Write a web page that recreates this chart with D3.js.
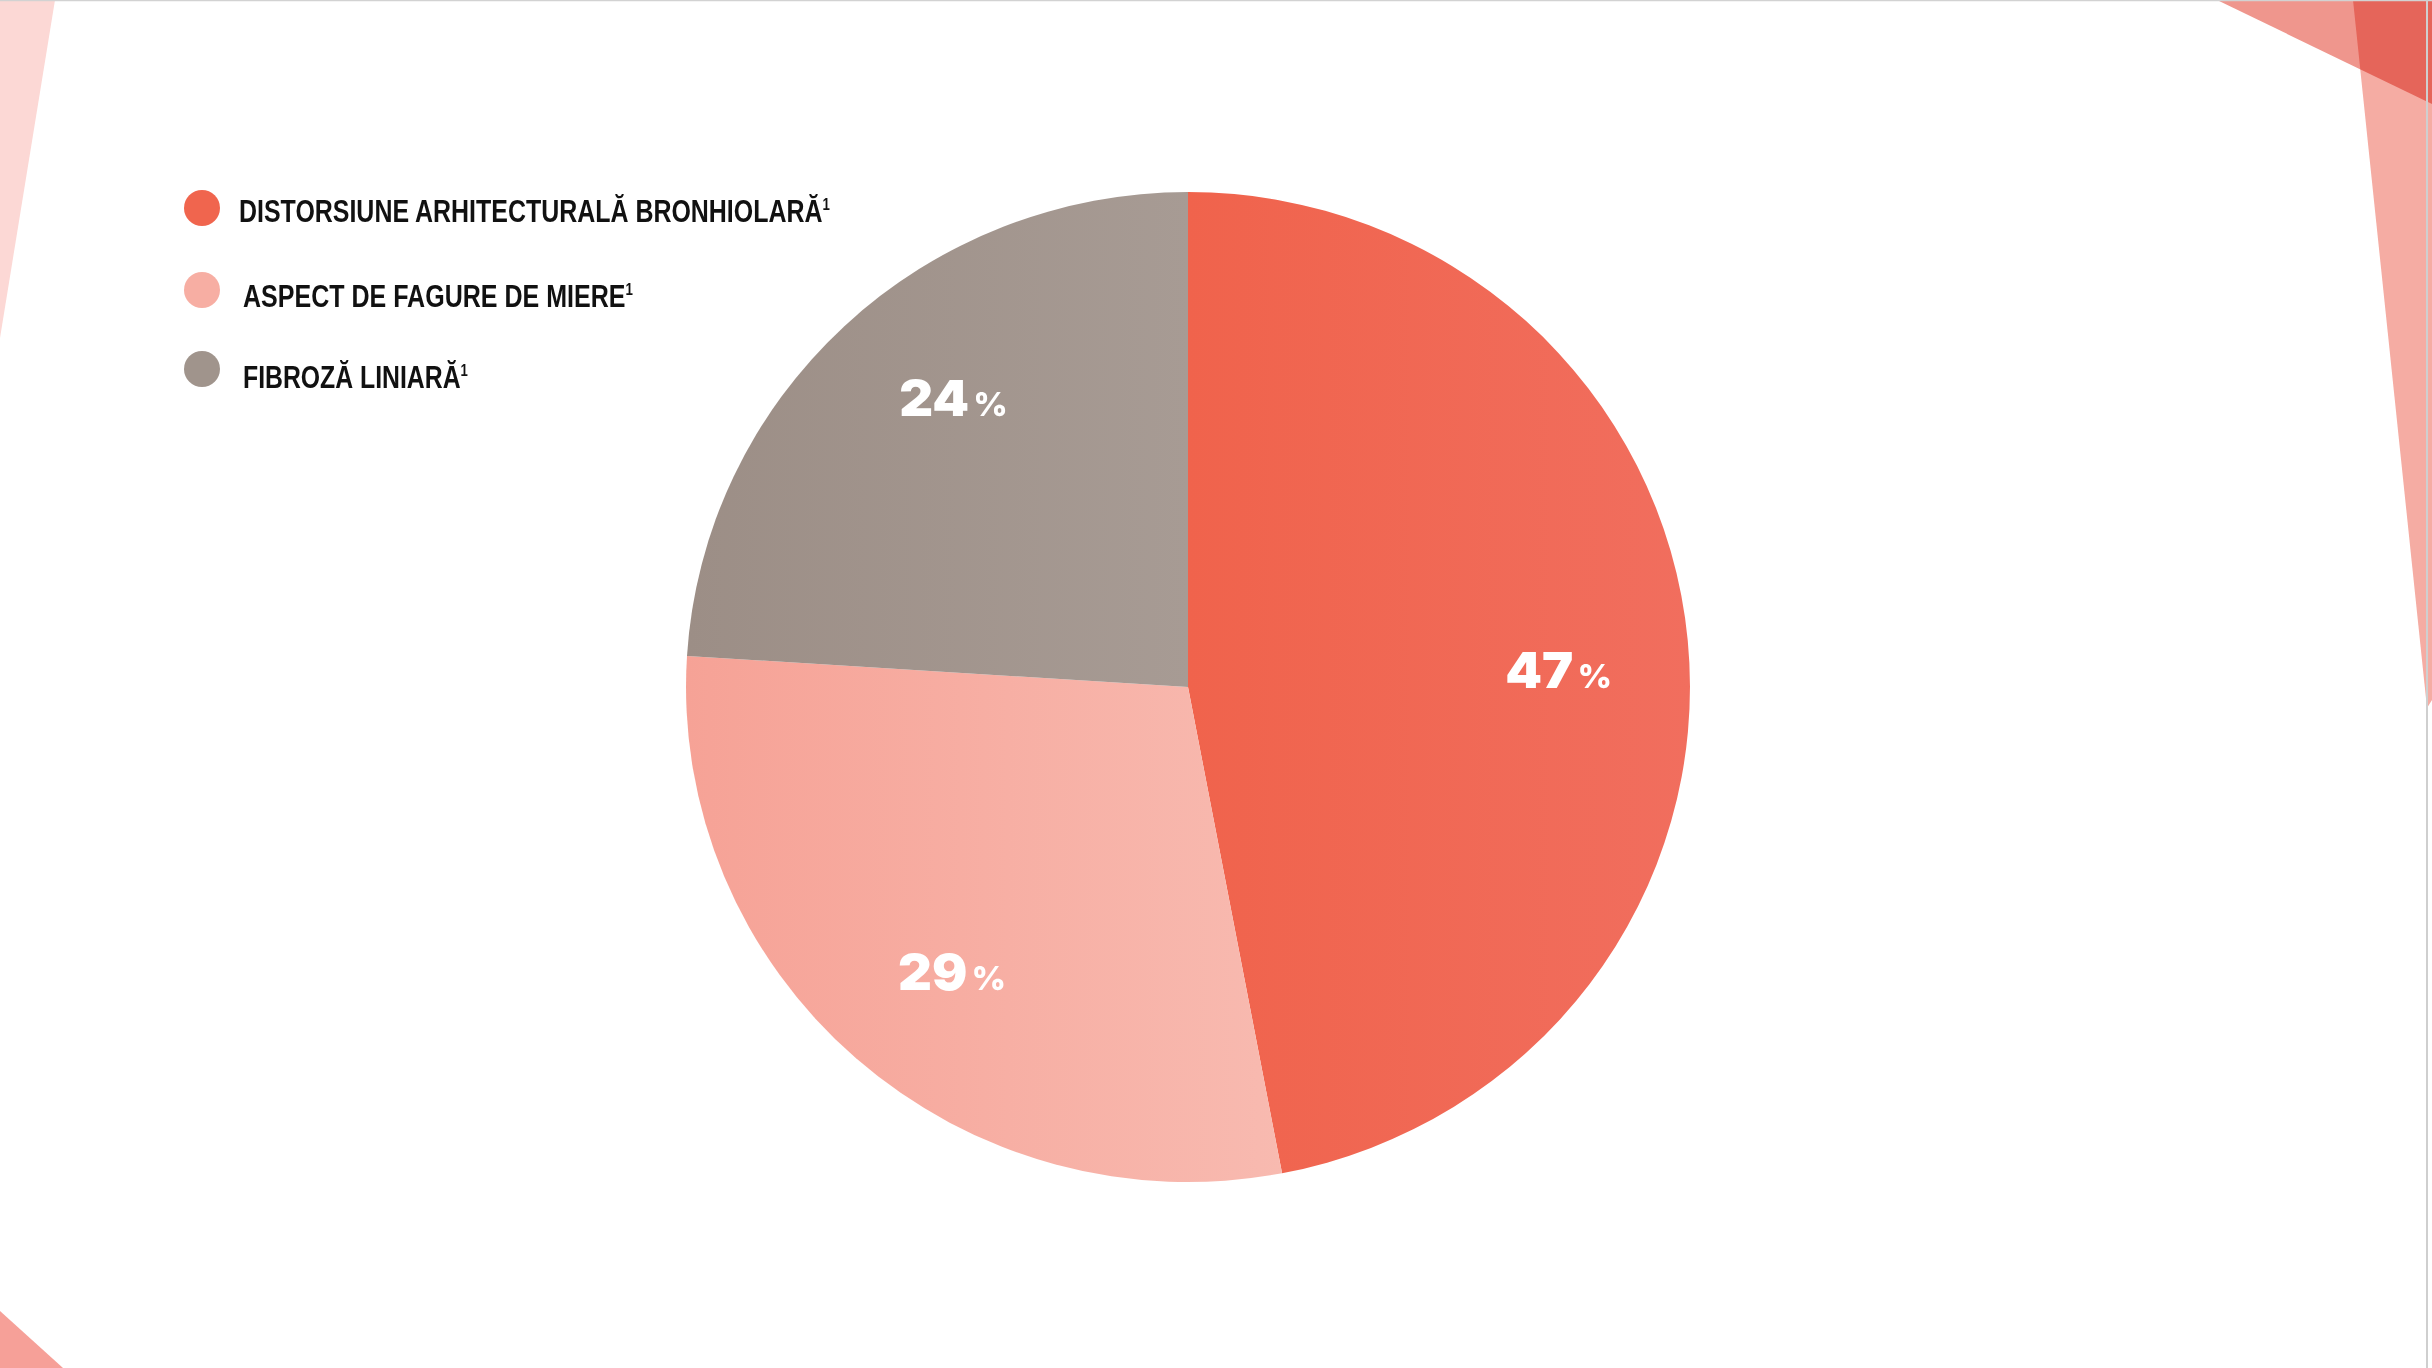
<!DOCTYPE html>
<html>
<head>
<meta charset="utf-8">
<script src="https://cdn.jsdelivr.net/npm/d3@7"></script>
<style>
  html, body { margin: 0; padding: 0; background: #ffffff; }
  svg { display: block; }
</style>
</head>
<body>
<svg id="chart" width="2432" height="1368"></svg>
<script>
// Slice categories, shares (%) and colours
const categories = ["DISTORSIUNE ARHITECTURALĂ BRONHIOLARĂ", "ASPECT DE FAGURE DE MIERE", "FIBROZĂ LINIARĂ"];
const values = [47, 29, 24];
const footnotes = ["1", "1", "1"];
const sliceColors = ["#F0654E", "#F7AEA3", "#A0948C"];
const gradientStops = [["#F0634C", "#F16E5E"], ["#F6A296", "#F8BAB0"], ["#9C8E86", "#A79B94"]];

// label placement tweak along each slice (degrees added to the mid-angle)
const labelAngleShift = [3.0, -1.9, 4.0];

const W = 2432, H = 1368;
const svg = d3.select("#chart");
const defs = svg.append("defs");

// ---- decorative background shapes ----
const deco = svg.append("g");
deco.append("polygon").attr("points", "0,0 55,0 0,338").attr("fill", "#FCD8D5");
deco.append("polygon").attr("points", "0,1311 63,1368 0,1368").attr("fill", "#F6A098");
deco.append("polygon").attr("points", "2217,0 2432,0 2432,104").attr("fill", "#EF968D");
deco.append("polygon").attr("points", "2353,0 2432,0 2432,700 2427,708")
  .attr("fill", "#F5ACA3").style("mix-blend-mode", "multiply");
// slide frame lines
deco.append("line").attr("x1", 0).attr("x2", W).attr("y1", 0.5).attr("y2", 0.5)
  .attr("stroke", "#D2D2D2").attr("stroke-width", 1.5);
deco.append("line").attr("x1", 2427).attr("x2", 2427).attr("y1", 0).attr("y2", H)
  .attr("stroke", "#CFCFCF").attr("stroke-width", 2);

// ---- pie ----
const cx = 1188, cy = 687, R = 498;
const pie = d3.pie().sort(null).value(d => d.value).startAngle(0).endAngle(2 * Math.PI);
const data = categories.map((c, i) => ({ name: c, value: values[i], i }));
const arcs = pie(data);
const arc = d3.arc().innerRadius(0).outerRadius(R);
const labelR = 371;

gradientStops.forEach((s, i) => {
  const g = defs.append("linearGradient").attr("id", "grad" + i)
    .attr("x1", "0%").attr("x2", "100%").attr("y1", "0%").attr("y2", "0%");
  g.append("stop").attr("offset", "0%").attr("stop-color", s[0]);
  g.append("stop").attr("offset", "100%").attr("stop-color", s[1]);
});

const pieG = svg.append("g").attr("transform", `translate(${cx},${cy})`);
pieG.append("g").attr("transform", "scale(1.008,0.994)")
  .selectAll("path.slice").data(arcs).join("path")
  .attr("class", "slice")
  .attr("d", arc)
  .attr("fill", d => `url(#grad${d.data.i})`);

// value labels
const labels = pieG.selectAll("text.val").data(arcs).join("text")
  .attr("class", "val")
  .attr("text-anchor", "middle")
  .attr("fill", "#FFFFFF")
  .style("font-family", "Inter, 'Open Sans', sans-serif")
  .style("font-weight", 900);
labels.each(function (d) {
  const a = (d.startAngle + d.endAngle) / 2 + labelAngleShift[d.data.i] * Math.PI / 180;
  const x = labelR * Math.sin(a), y = -labelR * Math.cos(a);
  const t = d3.select(this).attr("transform", `translate(${x},${y + 17}) scale(1.05,1)`);
  t.append("tspan").style("font-size", "50px").text(d.data.value);
  t.append("tspan").attr("dx", 4).style("font-size", "32px").style("font-weight", 800).text("%");
});

// ---- legend ----
const legend = svg.append("g");
const legendY = [208, 290, 369];
const legendWidths = [591, 390, 225];
const legendX = [239, 243, 243];
categories.forEach((c, i) => {
  legend.append("circle").attr("cx", 202).attr("cy", legendY[i]).attr("r", 18)
    .attr("fill", sliceColors[i]);
  const t = legend.append("text")
    .attr("fill", "#111111")
    .style("font-family", "'Liberation Sans', Arial, sans-serif")
    .style("font-weight", 700)
    .style("font-size", "32px");
  t.append("tspan").text(c);
  t.append("tspan").attr("dy", -12).style("font-size", "17px").text(footnotes[i]);
  const len = t.node().getComputedTextLength();
  const sx = legendWidths[i] / len;
  const dy = [14, 17, 19][i];
  t.attr("transform", `translate(${legendX[i]},${legendY[i] + dy}) scale(${sx},1)`);
});
</script>
</body>
</html>
